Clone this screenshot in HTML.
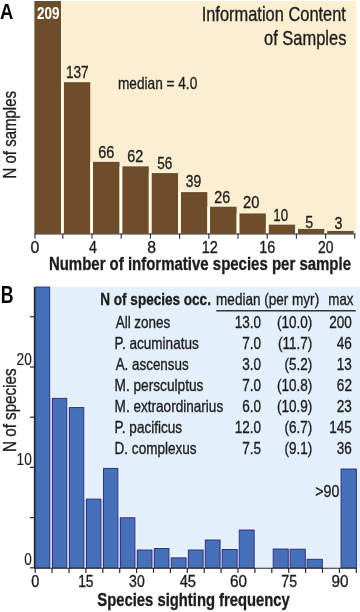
<!DOCTYPE html>
<html><head><meta charset="utf-8"><style>
html,body{margin:0;padding:0;background:#fff;}
svg{display:block;will-change:transform;}
text{font-family:"Liberation Sans",sans-serif;}
</style></head><body>
<svg width="360" height="612" viewBox="0 0 360 612">
<rect width="360" height="612" fill="#fff"/>
<rect x="34.40" y="1.00" width="322.10" height="232.00" fill="#fcefd1" />
<rect x="61.00" y="1.00" width="0.75" height="232.70" fill="#fffaeb" />
<rect x="34.40" y="1.00" width="26.60" height="232.70" fill="#6e4d2b" />
<rect x="62.92" y="81.45" width="28.10" height="0.75" fill="#fffaeb" />
<rect x="62.92" y="82.20" width="0.75" height="151.50" fill="#fffaeb" />
<rect x="90.27" y="82.20" width="0.75" height="151.50" fill="#fffaeb" />
<rect x="63.67" y="82.20" width="26.60" height="151.50" fill="#6e4d2b" />
<rect x="92.19" y="161.08" width="28.10" height="0.75" fill="#fffaeb" />
<rect x="92.19" y="161.83" width="0.75" height="71.87" fill="#fffaeb" />
<rect x="119.54" y="161.83" width="0.75" height="71.87" fill="#fffaeb" />
<rect x="92.94" y="161.83" width="26.60" height="71.87" fill="#6e4d2b" />
<rect x="121.46" y="165.57" width="28.10" height="0.75" fill="#fffaeb" />
<rect x="121.46" y="166.32" width="0.75" height="67.38" fill="#fffaeb" />
<rect x="148.81" y="166.32" width="0.75" height="67.38" fill="#fffaeb" />
<rect x="122.21" y="166.32" width="26.60" height="67.38" fill="#6e4d2b" />
<rect x="150.73" y="172.30" width="28.10" height="0.75" fill="#fffaeb" />
<rect x="150.73" y="173.05" width="0.75" height="60.65" fill="#fffaeb" />
<rect x="178.08" y="173.05" width="0.75" height="60.65" fill="#fffaeb" />
<rect x="151.48" y="173.05" width="26.60" height="60.65" fill="#6e4d2b" />
<rect x="180.00" y="191.37" width="28.10" height="0.75" fill="#fffaeb" />
<rect x="180.00" y="192.12" width="0.75" height="41.58" fill="#fffaeb" />
<rect x="207.35" y="192.12" width="0.75" height="41.58" fill="#fffaeb" />
<rect x="180.75" y="192.12" width="26.60" height="41.58" fill="#6e4d2b" />
<rect x="209.27" y="205.95" width="28.10" height="0.75" fill="#fffaeb" />
<rect x="209.27" y="206.70" width="0.75" height="27.00" fill="#fffaeb" />
<rect x="236.62" y="206.70" width="0.75" height="27.00" fill="#fffaeb" />
<rect x="210.02" y="206.70" width="26.60" height="27.00" fill="#6e4d2b" />
<rect x="238.54" y="212.68" width="28.10" height="0.75" fill="#fffaeb" />
<rect x="238.54" y="213.43" width="0.75" height="20.27" fill="#fffaeb" />
<rect x="265.89" y="213.43" width="0.75" height="20.27" fill="#fffaeb" />
<rect x="239.29" y="213.43" width="26.60" height="20.27" fill="#6e4d2b" />
<rect x="267.81" y="223.89" width="28.10" height="0.75" fill="#fffaeb" />
<rect x="267.81" y="224.64" width="0.75" height="9.06" fill="#fffaeb" />
<rect x="295.16" y="224.64" width="0.75" height="9.06" fill="#fffaeb" />
<rect x="268.56" y="224.64" width="26.60" height="9.06" fill="#6e4d2b" />
<rect x="297.08" y="228.15" width="28.10" height="0.75" fill="#fffaeb" />
<rect x="297.08" y="228.90" width="0.75" height="4.80" fill="#fffaeb" />
<rect x="324.43" y="228.90" width="0.75" height="4.80" fill="#fffaeb" />
<rect x="297.83" y="228.90" width="26.60" height="4.80" fill="#6e4d2b" />
<rect x="326.35" y="230.15" width="28.10" height="0.75" fill="#fffaeb" />
<rect x="326.35" y="230.90" width="0.75" height="2.80" fill="#fffaeb" />
<rect x="353.70" y="230.90" width="0.75" height="2.80" fill="#fffaeb" />
<rect x="327.10" y="230.90" width="26.60" height="2.80" fill="#6e4d2b" />
<rect x="61.00" y="82.20" width="2.67" height="151.50" fill="#fffaeb" />
<rect x="90.27" y="161.83" width="2.67" height="71.87" fill="#fffaeb" />
<rect x="119.54" y="166.32" width="2.67" height="67.38" fill="#fffaeb" />
<rect x="148.81" y="173.05" width="2.67" height="60.65" fill="#fffaeb" />
<rect x="178.08" y="192.12" width="2.67" height="41.58" fill="#fffaeb" />
<rect x="207.35" y="206.70" width="2.67" height="27.00" fill="#fffaeb" />
<rect x="236.62" y="213.43" width="2.67" height="20.27" fill="#fffaeb" />
<rect x="265.89" y="224.64" width="2.67" height="9.06" fill="#fffaeb" />
<rect x="295.16" y="228.90" width="2.67" height="4.80" fill="#fffaeb" />
<rect x="324.43" y="230.90" width="2.67" height="2.80" fill="#fffaeb" />
<line x1="34.40" y1="234.00" x2="355.30" y2="234.00" stroke="#2b2b2b" stroke-width="1.0"/>
<line x1="35.00" y1="233.60" x2="35.00" y2="238.80" stroke="#2b2b2b" stroke-width="1.1"/>
<line x1="62.80" y1="233.60" x2="62.80" y2="238.80" stroke="#2b2b2b" stroke-width="1.1"/>
<line x1="92.00" y1="233.60" x2="92.00" y2="238.80" stroke="#2b2b2b" stroke-width="1.1"/>
<line x1="121.20" y1="233.60" x2="121.20" y2="238.80" stroke="#2b2b2b" stroke-width="1.1"/>
<line x1="150.40" y1="233.60" x2="150.40" y2="238.80" stroke="#2b2b2b" stroke-width="1.1"/>
<line x1="179.60" y1="233.60" x2="179.60" y2="238.80" stroke="#2b2b2b" stroke-width="1.1"/>
<line x1="208.80" y1="233.60" x2="208.80" y2="238.80" stroke="#2b2b2b" stroke-width="1.1"/>
<line x1="238.00" y1="233.60" x2="238.00" y2="238.80" stroke="#2b2b2b" stroke-width="1.1"/>
<line x1="267.20" y1="233.60" x2="267.20" y2="238.80" stroke="#2b2b2b" stroke-width="1.1"/>
<line x1="296.40" y1="233.60" x2="296.40" y2="238.80" stroke="#2b2b2b" stroke-width="1.1"/>
<line x1="325.60" y1="233.60" x2="325.60" y2="238.80" stroke="#2b2b2b" stroke-width="1.1"/>
<line x1="354.80" y1="233.60" x2="354.80" y2="238.80" stroke="#2b2b2b" stroke-width="1.1"/>
<text x="36.93" y="18.90" font-size="16.40" font-weight="bold" fill="#ffffff" stroke="#ffffff" stroke-width="0.1" textLength="22.46" lengthAdjust="spacingAndGlyphs">209</text>
<text x="65.98" y="77.50" font-size="16.50" font-weight="normal" fill="#1e1e1e" stroke="#1e1e1e" stroke-width="0.35" textLength="22.72" lengthAdjust="spacingAndGlyphs">137</text>
<text x="98.18" y="158.00" font-size="16.50" font-weight="normal" fill="#1e1e1e" stroke="#1e1e1e" stroke-width="0.35" textLength="16.07" lengthAdjust="spacingAndGlyphs">66</text>
<text x="127.28" y="162.20" font-size="16.50" font-weight="normal" fill="#1e1e1e" stroke="#1e1e1e" stroke-width="0.35" textLength="15.97" lengthAdjust="spacingAndGlyphs">62</text>
<text x="157.26" y="169.20" font-size="16.50" font-weight="normal" fill="#1e1e1e" stroke="#1e1e1e" stroke-width="0.35" textLength="15.05" lengthAdjust="spacingAndGlyphs">56</text>
<text x="185.73" y="187.00" font-size="16.50" font-weight="normal" fill="#1e1e1e" stroke="#1e1e1e" stroke-width="0.35" textLength="15.43" lengthAdjust="spacingAndGlyphs">39</text>
<text x="214.29" y="203.25" font-size="16.50" font-weight="normal" fill="#1e1e1e" stroke="#1e1e1e" stroke-width="0.35" textLength="15.85" lengthAdjust="spacingAndGlyphs">26</text>
<text x="243.02" y="208.00" font-size="16.50" font-weight="normal" fill="#1e1e1e" stroke="#1e1e1e" stroke-width="0.35" textLength="16.32" lengthAdjust="spacingAndGlyphs">20</text>
<text x="273.25" y="221.25" font-size="16.50" font-weight="normal" fill="#1e1e1e" stroke="#1e1e1e" stroke-width="0.35" textLength="14.78" lengthAdjust="spacingAndGlyphs">10</text>
<text x="305.18" y="227.50" font-size="16.50" font-weight="normal" fill="#1e1e1e" stroke="#1e1e1e" stroke-width="0.35" textLength="7.90" lengthAdjust="spacingAndGlyphs">5</text>
<text x="334.47" y="228.75" font-size="16.50" font-weight="normal" fill="#1e1e1e" stroke="#1e1e1e" stroke-width="0.35" textLength="7.90" lengthAdjust="spacingAndGlyphs">3</text>
<text x="0.04" y="18.70" font-size="22.90" font-weight="bold" fill="#000" stroke="#000" stroke-width="0" textLength="13.37" lengthAdjust="spacingAndGlyphs">A</text>
<text x="117.98" y="88.60" font-size="16.60" font-weight="normal" fill="#1e1e1e" stroke="#1e1e1e" stroke-width="0.35" textLength="79.26" lengthAdjust="spacingAndGlyphs">median = 4.0</text>
<text x="201.68" y="20.90" font-size="19.70" font-weight="normal" fill="#1e1e1e" stroke="#1e1e1e" stroke-width="0.35" textLength="144.25" lengthAdjust="spacingAndGlyphs">Information Content</text>
<text x="264.00" y="45.00" font-size="19.70" font-weight="normal" fill="#1e1e1e" stroke="#1e1e1e" stroke-width="0.35" textLength="82.38" lengthAdjust="spacingAndGlyphs">of Samples</text>
<text transform="translate(16.30,177.30) rotate(-90)" x="-1.24" y="0" font-size="18.80" font-weight="normal" fill="#1e1e1e" stroke="#1e1e1e" stroke-width="0.35" textLength="87.57" lengthAdjust="spacingAndGlyphs">N of samples</text>
<text x="30.56" y="253.10" font-size="16.30" font-weight="normal" fill="#1e1e1e" stroke="#1e1e1e" stroke-width="0.35" textLength="8.85" lengthAdjust="spacingAndGlyphs">0</text>
<text x="89.08" y="253.10" font-size="16.30" font-weight="normal" fill="#1e1e1e" stroke="#1e1e1e" stroke-width="0.35" textLength="7.93" lengthAdjust="spacingAndGlyphs">4</text>
<text x="147.13" y="253.10" font-size="16.30" font-weight="normal" fill="#1e1e1e" stroke="#1e1e1e" stroke-width="0.35" textLength="8.76" lengthAdjust="spacingAndGlyphs">8</text>
<text x="201.76" y="253.10" font-size="16.30" font-weight="normal" fill="#1e1e1e" stroke="#1e1e1e" stroke-width="0.35" textLength="16.15" lengthAdjust="spacingAndGlyphs">12</text>
<text x="259.27" y="253.10" font-size="16.30" font-weight="normal" fill="#1e1e1e" stroke="#1e1e1e" stroke-width="0.35" textLength="16.03" lengthAdjust="spacingAndGlyphs">16</text>
<text x="318.08" y="253.10" font-size="16.30" font-weight="normal" fill="#1e1e1e" stroke="#1e1e1e" stroke-width="0.35" textLength="15.50" lengthAdjust="spacingAndGlyphs">20</text>
<text x="48.89" y="269.50" font-size="18.30" font-weight="bold" fill="#1e1e1e" stroke="#1e1e1e" stroke-width="0.35" textLength="302.12" lengthAdjust="spacingAndGlyphs">Number of informative species per sample</text>
<rect x="35.30" y="287.00" width="324.70" height="280.90" fill="#e3effa" />
<rect x="35.60" y="287.10" width="14.10" height="280.70" fill="none" stroke="#f2f5fc" stroke-width="3"/>
<rect x="52.57" y="398.35" width="14.17" height="169.45" fill="none" stroke="#f2f5fc" stroke-width="3"/>
<rect x="69.54" y="407.55" width="14.24" height="160.25" fill="none" stroke="#f2f5fc" stroke-width="3"/>
<rect x="86.51" y="499.10" width="14.31" height="68.70" fill="none" stroke="#f2f5fc" stroke-width="3"/>
<rect x="103.48" y="468.40" width="14.38" height="99.40" fill="none" stroke="#f2f5fc" stroke-width="3"/>
<rect x="120.45" y="517.80" width="14.45" height="50.00" fill="none" stroke="#f2f5fc" stroke-width="3"/>
<rect x="137.42" y="550.00" width="14.52" height="17.80" fill="none" stroke="#f2f5fc" stroke-width="3"/>
<rect x="154.39" y="548.50" width="14.59" height="19.30" fill="none" stroke="#f2f5fc" stroke-width="3"/>
<rect x="171.36" y="557.85" width="14.66" height="9.95" fill="none" stroke="#f2f5fc" stroke-width="3"/>
<rect x="188.33" y="550.00" width="14.73" height="17.80" fill="none" stroke="#f2f5fc" stroke-width="3"/>
<rect x="205.30" y="540.00" width="14.80" height="27.80" fill="none" stroke="#f2f5fc" stroke-width="3"/>
<rect x="222.27" y="549.50" width="14.87" height="18.30" fill="none" stroke="#f2f5fc" stroke-width="3"/>
<rect x="239.24" y="530.00" width="14.94" height="37.80" fill="none" stroke="#f2f5fc" stroke-width="3"/>
<rect x="273.18" y="549.00" width="15.08" height="18.80" fill="none" stroke="#f2f5fc" stroke-width="3"/>
<rect x="290.15" y="549.20" width="15.15" height="18.60" fill="none" stroke="#f2f5fc" stroke-width="3"/>
<rect x="307.12" y="559.30" width="15.22" height="8.50" fill="none" stroke="#f2f5fc" stroke-width="3"/>
<rect x="341.06" y="469.00" width="15.36" height="98.80" fill="none" stroke="#f2f5fc" stroke-width="3"/>
<rect x="50.20" y="398.35" width="1.87" height="169.45" fill="#d0d0ea" />
<rect x="67.24" y="407.55" width="1.80" height="160.25" fill="#d0d0ea" />
<rect x="84.28" y="499.10" width="1.73" height="68.70" fill="#d0d0ea" />
<rect x="101.32" y="499.10" width="1.66" height="68.70" fill="#d0d0ea" />
<rect x="118.36" y="517.80" width="1.59" height="50.00" fill="#d0d0ea" />
<rect x="135.40" y="550.00" width="1.52" height="17.80" fill="#d0d0ea" />
<rect x="152.44" y="550.00" width="1.45" height="17.80" fill="#d0d0ea" />
<rect x="169.48" y="557.85" width="1.38" height="9.95" fill="#d0d0ea" />
<rect x="186.52" y="557.85" width="1.31" height="9.95" fill="#d0d0ea" />
<rect x="203.56" y="550.00" width="1.24" height="17.80" fill="#d0d0ea" />
<rect x="220.60" y="549.50" width="1.17" height="18.30" fill="#d0d0ea" />
<rect x="237.64" y="549.50" width="1.10" height="18.30" fill="#d0d0ea" />
<rect x="288.76" y="549.20" width="0.89" height="18.60" fill="#d0d0ea" />
<rect x="305.80" y="559.30" width="0.82" height="8.50" fill="#d0d0ea" />
<rect x="35.60" y="287.10" width="14.10" height="280.70" fill="#4671b9" stroke="#2a3386" stroke-width="1"/>
<rect x="52.57" y="398.35" width="14.17" height="169.45" fill="#4671b9" stroke="#2a3386" stroke-width="1"/>
<rect x="69.54" y="407.55" width="14.24" height="160.25" fill="#4671b9" stroke="#2a3386" stroke-width="1"/>
<rect x="86.51" y="499.10" width="14.31" height="68.70" fill="#4671b9" stroke="#2a3386" stroke-width="1"/>
<rect x="103.48" y="468.40" width="14.38" height="99.40" fill="#4671b9" stroke="#2a3386" stroke-width="1"/>
<rect x="120.45" y="517.80" width="14.45" height="50.00" fill="#4671b9" stroke="#2a3386" stroke-width="1"/>
<rect x="137.42" y="550.00" width="14.52" height="17.80" fill="#4671b9" stroke="#2a3386" stroke-width="1"/>
<rect x="154.39" y="548.50" width="14.59" height="19.30" fill="#4671b9" stroke="#2a3386" stroke-width="1"/>
<rect x="171.36" y="557.85" width="14.66" height="9.95" fill="#4671b9" stroke="#2a3386" stroke-width="1"/>
<rect x="188.33" y="550.00" width="14.73" height="17.80" fill="#4671b9" stroke="#2a3386" stroke-width="1"/>
<rect x="205.30" y="540.00" width="14.80" height="27.80" fill="#4671b9" stroke="#2a3386" stroke-width="1"/>
<rect x="222.27" y="549.50" width="14.87" height="18.30" fill="#4671b9" stroke="#2a3386" stroke-width="1"/>
<rect x="239.24" y="530.00" width="14.94" height="37.80" fill="#4671b9" stroke="#2a3386" stroke-width="1"/>
<rect x="273.18" y="549.00" width="15.08" height="18.80" fill="#4671b9" stroke="#2a3386" stroke-width="1"/>
<rect x="290.15" y="549.20" width="15.15" height="18.60" fill="#4671b9" stroke="#2a3386" stroke-width="1"/>
<rect x="307.12" y="559.30" width="15.22" height="8.50" fill="#4671b9" stroke="#2a3386" stroke-width="1"/>
<rect x="341.06" y="469.00" width="15.36" height="98.80" fill="#4671b9" stroke="#2a3386" stroke-width="1"/>
<line x1="34.40" y1="287.00" x2="34.40" y2="568.30" stroke="#2b2b2b" stroke-width="1.2"/>
<line x1="34.40" y1="568.20" x2="356.90" y2="568.20" stroke="#2b2b2b" stroke-width="1.1"/>
<line x1="30.00" y1="567.80" x2="35.00" y2="567.80" stroke="#2b2b2b" stroke-width="1.2"/>
<line x1="30.00" y1="517.60" x2="35.00" y2="517.60" stroke="#2b2b2b" stroke-width="1.2"/>
<line x1="30.00" y1="467.40" x2="35.00" y2="467.40" stroke="#2b2b2b" stroke-width="1.2"/>
<line x1="30.00" y1="417.20" x2="35.00" y2="417.20" stroke="#2b2b2b" stroke-width="1.2"/>
<line x1="30.00" y1="367.00" x2="35.00" y2="367.00" stroke="#2b2b2b" stroke-width="1.2"/>
<line x1="30.00" y1="316.80" x2="35.00" y2="316.80" stroke="#2b2b2b" stroke-width="1.2"/>
<line x1="35.20" y1="568.00" x2="35.20" y2="572.90" stroke="#2b2b2b" stroke-width="1.2"/>
<line x1="52.10" y1="568.00" x2="52.10" y2="572.90" stroke="#2b2b2b" stroke-width="1.2"/>
<line x1="69.00" y1="568.00" x2="69.00" y2="572.90" stroke="#2b2b2b" stroke-width="1.2"/>
<line x1="85.90" y1="568.00" x2="85.90" y2="572.90" stroke="#2b2b2b" stroke-width="1.2"/>
<line x1="102.80" y1="568.00" x2="102.80" y2="572.90" stroke="#2b2b2b" stroke-width="1.2"/>
<line x1="119.70" y1="568.00" x2="119.70" y2="572.90" stroke="#2b2b2b" stroke-width="1.2"/>
<line x1="136.60" y1="568.00" x2="136.60" y2="572.90" stroke="#2b2b2b" stroke-width="1.2"/>
<line x1="153.50" y1="568.00" x2="153.50" y2="572.90" stroke="#2b2b2b" stroke-width="1.2"/>
<line x1="170.40" y1="568.00" x2="170.40" y2="572.90" stroke="#2b2b2b" stroke-width="1.2"/>
<line x1="187.30" y1="568.00" x2="187.30" y2="572.90" stroke="#2b2b2b" stroke-width="1.2"/>
<line x1="204.20" y1="568.00" x2="204.20" y2="572.90" stroke="#2b2b2b" stroke-width="1.2"/>
<line x1="221.10" y1="568.00" x2="221.10" y2="572.90" stroke="#2b2b2b" stroke-width="1.2"/>
<line x1="238.00" y1="568.00" x2="238.00" y2="572.90" stroke="#2b2b2b" stroke-width="1.2"/>
<line x1="254.90" y1="568.00" x2="254.90" y2="572.90" stroke="#2b2b2b" stroke-width="1.2"/>
<line x1="271.80" y1="568.00" x2="271.80" y2="572.90" stroke="#2b2b2b" stroke-width="1.2"/>
<line x1="288.70" y1="568.00" x2="288.70" y2="572.90" stroke="#2b2b2b" stroke-width="1.2"/>
<line x1="305.60" y1="568.00" x2="305.60" y2="572.90" stroke="#2b2b2b" stroke-width="1.2"/>
<line x1="322.50" y1="568.00" x2="322.50" y2="572.90" stroke="#2b2b2b" stroke-width="1.2"/>
<line x1="339.40" y1="568.00" x2="339.40" y2="572.90" stroke="#2b2b2b" stroke-width="1.2"/>
<line x1="356.30" y1="568.00" x2="356.30" y2="572.90" stroke="#2b2b2b" stroke-width="1.2"/>
<text x="0.70" y="302.50" font-size="23.00" font-weight="bold" fill="#000" stroke="#000" stroke-width="0" textLength="12.79" lengthAdjust="spacingAndGlyphs">B</text>
<text transform="translate(16.30,450.70) rotate(-90)" x="-1.25" y="0" font-size="18.80" font-weight="normal" fill="#1e1e1e" stroke="#1e1e1e" stroke-width="0.35" textLength="83.48" lengthAdjust="spacingAndGlyphs">N of species</text>
<text x="16.62" y="364.60" font-size="16.50" font-weight="normal" fill="#1e1e1e" stroke="#1e1e1e" stroke-width="0.15" textLength="15.18" lengthAdjust="spacingAndGlyphs">20</text>
<text x="16.57" y="464.60" font-size="16.50" font-weight="normal" fill="#1e1e1e" stroke="#1e1e1e" stroke-width="0.15" textLength="15.22" lengthAdjust="spacingAndGlyphs">10</text>
<text x="24.36" y="564.50" font-size="16.50" font-weight="normal" fill="#1e1e1e" stroke="#1e1e1e" stroke-width="0.15" textLength="7.57" lengthAdjust="spacingAndGlyphs">0</text>
<text x="31.27" y="587.40" font-size="16.00" font-weight="normal" fill="#1e1e1e" stroke="#1e1e1e" stroke-width="0.35" textLength="8.04" lengthAdjust="spacingAndGlyphs">0</text>
<text x="78.15" y="587.40" font-size="16.00" font-weight="normal" fill="#1e1e1e" stroke="#1e1e1e" stroke-width="0.35" textLength="15.43" lengthAdjust="spacingAndGlyphs">15</text>
<text x="129.10" y="587.40" font-size="16.00" font-weight="normal" fill="#1e1e1e" stroke="#1e1e1e" stroke-width="0.35" textLength="15.58" lengthAdjust="spacingAndGlyphs">30</text>
<text x="179.64" y="587.40" font-size="16.00" font-weight="normal" fill="#1e1e1e" stroke="#1e1e1e" stroke-width="0.35" textLength="16.35" lengthAdjust="spacingAndGlyphs">45</text>
<text x="229.90" y="587.40" font-size="16.00" font-weight="normal" fill="#1e1e1e" stroke="#1e1e1e" stroke-width="0.35" textLength="16.97" lengthAdjust="spacingAndGlyphs">60</text>
<text x="281.31" y="587.40" font-size="16.00" font-weight="normal" fill="#1e1e1e" stroke="#1e1e1e" stroke-width="0.35" textLength="15.74" lengthAdjust="spacingAndGlyphs">75</text>
<text x="331.52" y="587.40" font-size="16.00" font-weight="normal" fill="#1e1e1e" stroke="#1e1e1e" stroke-width="0.35" textLength="16.93" lengthAdjust="spacingAndGlyphs">90</text>
<text x="97.36" y="605.50" font-size="18.20" font-weight="bold" fill="#1e1e1e" stroke="#1e1e1e" stroke-width="0.35" textLength="192.44" lengthAdjust="spacingAndGlyphs">Species sighting frequency</text>
<text x="100.29" y="304.80" font-size="16.50" font-weight="bold" fill="#1e1e1e" stroke="#1e1e1e" stroke-width="0.35" textLength="110.63" lengthAdjust="spacingAndGlyphs">N of species occ.</text>
<text x="216.09" y="304.80" font-size="16.50" font-weight="normal" fill="#1e1e1e" stroke="#1e1e1e" stroke-width="0.35" textLength="103.07" lengthAdjust="spacingAndGlyphs">median (per myr)</text>
<text x="328.30" y="304.80" font-size="16.50" font-weight="normal" fill="#1e1e1e" stroke="#1e1e1e" stroke-width="0.35" textLength="25.15" lengthAdjust="spacingAndGlyphs">max</text>
<line x1="216.25" y1="310.80" x2="355.80" y2="310.80" stroke="#333" stroke-width="1.5"/>
<text x="115.67" y="327.90" font-size="16.50" font-weight="normal" fill="#1e1e1e" stroke="#1e1e1e" stroke-width="0.35" textLength="54.61" lengthAdjust="spacingAndGlyphs">All zones</text>
<text x="234.79" y="327.90" font-size="16.50" font-weight="normal" fill="#1e1e1e" stroke="#1e1e1e" stroke-width="0.35" textLength="26.33" lengthAdjust="spacingAndGlyphs">13.0</text>
<text x="277.00" y="327.90" font-size="16.50" font-weight="normal" fill="#1e1e1e" stroke="#1e1e1e" stroke-width="0.35" textLength="35.35" lengthAdjust="spacingAndGlyphs">(10.0)</text>
<text x="329.15" y="327.90" font-size="16.50" font-weight="normal" fill="#1e1e1e" stroke="#1e1e1e" stroke-width="0.35" textLength="22.58" lengthAdjust="spacingAndGlyphs">200</text>
<text x="114.58" y="348.90" font-size="16.50" font-weight="normal" fill="#1e1e1e" stroke="#1e1e1e" stroke-width="0.35" textLength="84.20" lengthAdjust="spacingAndGlyphs">P. acuminatus</text>
<text x="242.30" y="348.90" font-size="16.50" font-weight="normal" fill="#1e1e1e" stroke="#1e1e1e" stroke-width="0.35" textLength="18.81" lengthAdjust="spacingAndGlyphs">7.0</text>
<text x="278.01" y="348.90" font-size="16.50" font-weight="normal" fill="#1e1e1e" stroke="#1e1e1e" stroke-width="0.35" textLength="34.34" lengthAdjust="spacingAndGlyphs">(11.7)</text>
<text x="336.76" y="348.90" font-size="16.50" font-weight="normal" fill="#1e1e1e" stroke="#1e1e1e" stroke-width="0.35" textLength="15.05" lengthAdjust="spacingAndGlyphs">46</text>
<text x="115.67" y="369.90" font-size="16.50" font-weight="normal" fill="#1e1e1e" stroke="#1e1e1e" stroke-width="0.35" textLength="73.00" lengthAdjust="spacingAndGlyphs">A. ascensus</text>
<text x="242.30" y="369.90" font-size="16.50" font-weight="normal" fill="#1e1e1e" stroke="#1e1e1e" stroke-width="0.35" textLength="18.81" lengthAdjust="spacingAndGlyphs">3.0</text>
<text x="284.54" y="369.90" font-size="16.50" font-weight="normal" fill="#1e1e1e" stroke="#1e1e1e" stroke-width="0.35" textLength="27.82" lengthAdjust="spacingAndGlyphs">(5.2)</text>
<text x="336.76" y="369.90" font-size="16.50" font-weight="normal" fill="#1e1e1e" stroke="#1e1e1e" stroke-width="0.35" textLength="15.05" lengthAdjust="spacingAndGlyphs">13</text>
<text x="114.57" y="390.90" font-size="16.50" font-weight="normal" fill="#1e1e1e" stroke="#1e1e1e" stroke-width="0.35" textLength="88.81" lengthAdjust="spacingAndGlyphs">M. persculptus</text>
<text x="242.30" y="390.90" font-size="16.50" font-weight="normal" fill="#1e1e1e" stroke="#1e1e1e" stroke-width="0.35" textLength="18.81" lengthAdjust="spacingAndGlyphs">7.0</text>
<text x="277.00" y="390.90" font-size="16.50" font-weight="normal" fill="#1e1e1e" stroke="#1e1e1e" stroke-width="0.35" textLength="35.35" lengthAdjust="spacingAndGlyphs">(10.8)</text>
<text x="336.86" y="390.90" font-size="16.50" font-weight="normal" fill="#1e1e1e" stroke="#1e1e1e" stroke-width="0.35" textLength="15.05" lengthAdjust="spacingAndGlyphs">62</text>
<text x="114.58" y="411.90" font-size="16.50" font-weight="normal" fill="#1e1e1e" stroke="#1e1e1e" stroke-width="0.35" textLength="108.60" lengthAdjust="spacingAndGlyphs">M. extraordinarius</text>
<text x="242.30" y="411.90" font-size="16.50" font-weight="normal" fill="#1e1e1e" stroke="#1e1e1e" stroke-width="0.35" textLength="18.81" lengthAdjust="spacingAndGlyphs">6.0</text>
<text x="277.00" y="411.90" font-size="16.50" font-weight="normal" fill="#1e1e1e" stroke="#1e1e1e" stroke-width="0.35" textLength="35.35" lengthAdjust="spacingAndGlyphs">(10.9)</text>
<text x="336.76" y="411.90" font-size="16.50" font-weight="normal" fill="#1e1e1e" stroke="#1e1e1e" stroke-width="0.35" textLength="15.05" lengthAdjust="spacingAndGlyphs">23</text>
<text x="114.58" y="432.90" font-size="16.50" font-weight="normal" fill="#1e1e1e" stroke="#1e1e1e" stroke-width="0.35" textLength="67.38" lengthAdjust="spacingAndGlyphs">P. pacificus</text>
<text x="234.79" y="432.90" font-size="16.50" font-weight="normal" fill="#1e1e1e" stroke="#1e1e1e" stroke-width="0.35" textLength="26.33" lengthAdjust="spacingAndGlyphs">12.0</text>
<text x="284.54" y="432.90" font-size="16.50" font-weight="normal" fill="#1e1e1e" stroke="#1e1e1e" stroke-width="0.35" textLength="27.82" lengthAdjust="spacingAndGlyphs">(6.7)</text>
<text x="329.18" y="432.90" font-size="16.50" font-weight="normal" fill="#1e1e1e" stroke="#1e1e1e" stroke-width="0.35" textLength="22.58" lengthAdjust="spacingAndGlyphs">145</text>
<text x="114.58" y="453.90" font-size="16.50" font-weight="normal" fill="#1e1e1e" stroke="#1e1e1e" stroke-width="0.35" textLength="81.99" lengthAdjust="spacingAndGlyphs">D. complexus</text>
<text x="242.33" y="453.90" font-size="16.50" font-weight="normal" fill="#1e1e1e" stroke="#1e1e1e" stroke-width="0.35" textLength="18.81" lengthAdjust="spacingAndGlyphs">7.5</text>
<text x="284.54" y="453.90" font-size="16.50" font-weight="normal" fill="#1e1e1e" stroke="#1e1e1e" stroke-width="0.35" textLength="27.82" lengthAdjust="spacingAndGlyphs">(9.1)</text>
<text x="336.76" y="453.90" font-size="16.50" font-weight="normal" fill="#1e1e1e" stroke="#1e1e1e" stroke-width="0.35" textLength="15.05" lengthAdjust="spacingAndGlyphs">36</text>
<text x="315.28" y="496.70" font-size="17.00" font-weight="normal" fill="#1e1e1e" stroke="#1e1e1e" stroke-width="0.35" textLength="24.27" lengthAdjust="spacingAndGlyphs">&gt;90</text>
</svg>
</body></html>
